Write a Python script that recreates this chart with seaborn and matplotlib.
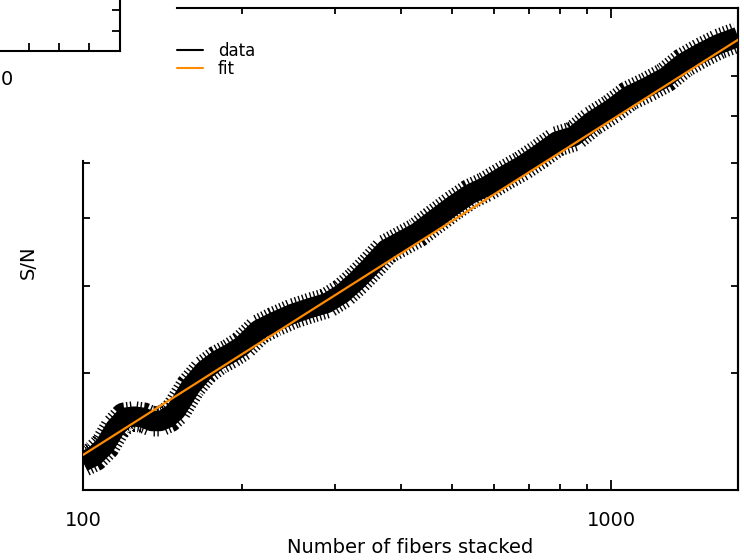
import numpy as np
import pandas as pd
import seaborn as sns
import matplotlib.pyplot as plt
from matplotlib.lines import Line2D

# ---- data ----
n_fibers = [100, 105, 110, 115, 120, 125, 130, 135, 140, 145, 150, 160, 170, 180,
            190, 200, 215, 230, 250, 270, 290, 310, 330, 350, 375, 400, 430, 460,
            500, 540, 580, 630, 680, 730, 790, 850, 920, 1000, 1080, 1170, 1270,
            1370, 1480, 1600, 1740]
snr = [22.4, 22.8, 23.6, 25.0, 25.9, 26.0, 25.9, 25.6, 25.6, 25.9, 26.5, 28.7,
       30.3, 31.3, 32.0, 32.8, 34.6, 35.5, 36.5, 37.2, 37.8, 39.0, 40.7, 42.6,
       45.1, 46.3, 47.7, 49.6, 52.0, 54.1, 55.5, 57.6, 59.5, 61.7, 64.4, 65.5,
       68.8, 71.6, 74.8, 77.0, 79.6, 83.4, 86.2, 88.8, 90.9]
fit_n = [100, 1750]
fit_snr = [22.9, 90.3]

x_major = [100, 1000]
x_major_labels = ["100", "1000"]
x_minor = [200, 300, 400, 500, 600, 700, 800, 900]
y_left_ticks = [30, 40, 50, 60]
y_right_ticks = [30, 40, 50, 60, 70, 80, 90]

ORANGE = "#ff8c00"

sns.set_style("white")
plt.rcParams["font.family"] = ["DejaVu Sans"]
plt.rcParams["text.color"] = "black"
plt.rcParams["axes.labelcolor"] = "black"
plt.rcParams["xtick.color"] = "black"
plt.rcParams["ytick.color"] = "black"

W, H = 744, 560
fig = plt.figure(figsize=(W / 100, H / 100), dpi=100)
ax = fig.add_axes([83 / W, 70 / H, 655 / W, 482 / H])
ax.set_xscale("log")
ax.set_yscale("log")

df = pd.DataFrame({"n": n_fibers, "snr": snr})
fit_df = pd.DataFrame({"n": fit_n, "snr": fit_snr})

# data: solid core + striped halo (mimics dense error bars)
sns.lineplot(data=df, x="n", y="snr", ax=ax, color="black", lw=14.5,
             solid_joinstyle="round", solid_capstyle="butt", legend=False, zorder=2)
sns.lineplot(data=df, x="n", y="snr", ax=ax, color="black", lw=22,
             linestyle=(0, (0.045, 0.08)), legend=False, zorder=2)
sns.lineplot(data=fit_df, x="n", y="snr", ax=ax, color=ORANGE, lw=1.6,
             legend=False, zorder=3)

ax.set_xlim(100, 1740)
ax.set_ylim(20.4, 100)

# spines
for s in ax.spines.values():
    s.set_linewidth(1.5)
    s.set_color("black")
ax.spines["left"].set_bounds(20.4, 60.4)
ax.spines["top"].set_bounds(151, 1740)

# bottom / left ticks
ax.set_xticks(x_major)
ax.set_xticklabels(x_major_labels)
ax.set_xticks(x_minor, minor=True)
ax.xaxis.set_minor_formatter(plt.NullFormatter())
ax.set_yticks(y_left_ticks)
ax.set_yticklabels([])
ax.set_yticks([], minor=True)
ax.tick_params(axis="x", which="major", direction="in", length=7.5, width=1.3,
               labelsize=14, pad=15, top=False, bottom=True)
ax.tick_params(axis="x", which="minor", direction="in", length=4.5, width=1.3,
               top=False, bottom=True)
ax.tick_params(axis="y", which="major", direction="in", length=5, width=1.3,
               left=True, right=False)

# top ticks (mirror, without the 100 tick)
sec_x = ax.secondary_xaxis("top")
sec_x.set_xticks([1000])
sec_x.set_xticks(x_minor, minor=True)
sec_x.xaxis.set_major_formatter(plt.NullFormatter())
sec_x.xaxis.set_minor_formatter(plt.NullFormatter())
sec_x.tick_params(which="major", direction="in", length=7.5, width=1.3)
sec_x.tick_params(which="minor", direction="in", length=4.5, width=1.3)
sec_x.spines["top"].set_visible(False)

# right ticks
sec_y = ax.secondary_yaxis("right")
sec_y.set_yticks(y_right_ticks)
sec_y.set_yticks([], minor=True)
sec_y.yaxis.set_major_formatter(plt.NullFormatter())
sec_y.tick_params(which="major", direction="in", length=5, width=1.3)
sec_y.spines["right"].set_linewidth(1.5)

# labels
ax.set_xlabel("Number of fibers stacked", fontsize=14)
ax.xaxis.set_label_coords((410 - 83) / 655, (490 - 538) / 482)
ax.set_ylabel("S/N", fontsize=14)
ax.yaxis.set_label_coords((38 - 83) / 655, (490 - 262) / 482)

# legend
handles = [Line2D([], [], color="black", lw=1.5, label="data"),
           Line2D([], [], color=ORANGE, lw=1.5, label="fit")]
ax.legend(handles=handles, loc="upper left",
          bbox_to_anchor=(177 / W, (H - 42) / H), bbox_transform=fig.transFigure,
          frameon=False, fontsize=12, handlelength=1.55, handletextpad=0.9,
          labelspacing=0.0, borderpad=0, borderaxespad=0)

# partially visible neighbouring panel at the top-left
nb = fig.add_axes([-372 / W, (H - 51) / H, 492 / W, 300 / H])
nb.set_xlim(-372, 120)
nb.set_ylim(0, 300)
nb.set_facecolor("none")
for side in ["top", "left"]:
    nb.spines[side].set_visible(False)
for side in ["right", "bottom"]:
    nb.spines[side].set_linewidth(1.5)
    nb.spines[side].set_color("black")
nb.set_xticks([29, 59, 89])
nb.set_yticks([20, 41])
nb.tick_params(direction="in", length=6, width=1.3, labelbottom=False,
               labelleft=False, left=False, right=True, bottom=True)
fig.text(1 / W, 1 - 80 / H, "0", fontsize=14, ha="left", va="center")

fig.savefig("out.png", dpi=100)
